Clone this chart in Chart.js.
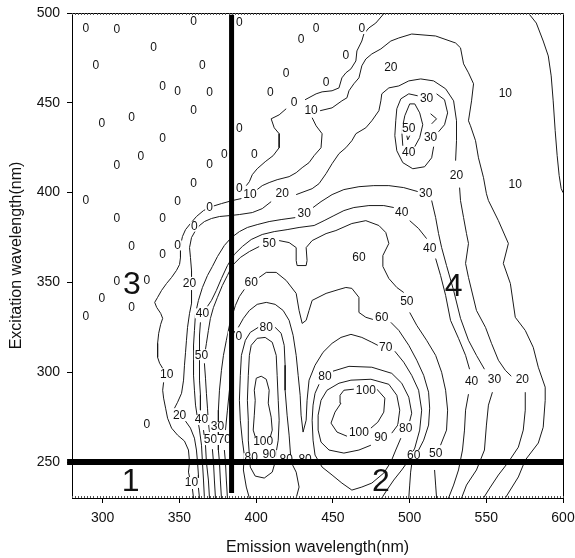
<!DOCTYPE html>
<html><head><meta charset="utf-8">
<script src="https://cdn.jsdelivr.net/npm/chart.js@4"></script>
<style>html,body{margin:0;padding:0;background:#fff;}canvas{display:block}</style>
</head><body>
<canvas id="c" width="575" height="558"></canvas>
<script>
// axis ticks
const xTicks = [300, 350, 400, 450, 500, 550, 600];
const yTicks = [250, 300, 350, 400, 450, 500];

// contour polylines: [emission nm, excitation nm]
const cEdge = [[577.4,500],[582.6,494.4],[587.1,484.4],[590.4,476.1],[592.3,465],[593.6,451.1],[594.9,434.5],[596.2,420.6],[597.5,409.5],[598.8,402.3],[600,400]];
const c0a = [[483.6,500],[478.0,494.4],[473.5,491.7],[470.2,488.3],[468.9,484.4],[465.7,478.9],[465.0,473.3],[461.8,468.9],[458.5,466.7],[455.9,463.9],[454.0,458.3],[449.5,456.7],[443.0,456.1],[439.1,455.0],[431.9,451.7]];
const c0b = [[419.6,446.7],[415.0,443.3],[409.8,441.1],[411.8,436.1],[415.0,432.8],[415.0,425.0],[411.1,420.6],[405.9,417.2],[400.7,413.3],[397.5,410.0],[395.6,406.1],[393.6,403.9]];
const c10a = [[562.4,230],[570.9,241.7],[575.4,251.1],[583.9,260.6],[587.1,269.4],[588.4,284.4],[588.4,291.7],[583.9,302.8],[580.6,313.9],[575.4,323.3],[568.9,330.6],[565.7,349.4],[561.1,360.6],[564.4,371.7],[557.9,384.4],[551.4,395.6],[550.1,399.4],[548.2,408.3],[544.9,419.4],[543.0,428.9],[539.7,437.2],[538.4,440.0],[540.4,451.1],[541.7,460.6],[538.4,466.7],[535.2,471.7],[533.2,480.6],[530.0,483.3],[517.0,487.2],[501.4,488.3],[493.0,486.1],[487.8,484.4],[481.3,480.0],[475.4,477.2],[471.5,474.4],[468.9,470.6],[467.0,463.9],[463.7,460.6],[460.5,456.7],[459.2,452.8],[455.9,451.1],[449.5,447.2],[441.7,445.6]];
const c10b = [[436.5,441.7],[439.1,437.2],[443.0,432.8],[442.3,425.0],[437.8,420.6],[434.5,416.7],[430.0,413.9],[426.1,411.1],[421.5,408.9],[413.7,407.2],[408.5,405.6],[404.0,403.9],[400.7,401.7]];
const c10c = [[390.4,396.7],[384.5,395.6],[377.4,393.9],[370.9,392.2],[365.7,390.0],[361.1,386.7],[357.2,382.8],[354.0,379.4],[352.0,375.6],[350.7,370.6],[350.7,363.9],[350.1,360.0],[348.1,356.7],[344.9,352.8],[341.6,349.4],[338.4,345.6],[335.8,341.7],[333.9,338.9],[335.2,336.1],[337.8,332.8],[339.1,330.0],[337.8,326.7],[336.5,321.7],[335.8,316.1],[335.8,308.3],[337.1,305.0],[339.1,302.2]];
const c10d = [[339.7,294.4],[339.1,290.0],[339.7,285.6],[341.0,280.0],[342.3,274.4],[344.9,268.9],[348.8,265.0],[353.3,261.7],[355.9,256.7],[356.6,250.0],[355.9,244.4],[356.6,241.7]];
const c10e = [[358.5,235.0],[359.2,230]];
const c20a = [[548.2,230],[552.7,236.1],[557.9,242.8],[564.4,250.0],[570.9,258.3],[574.1,267.8],[575.4,278.9],[575.4,288.9]];
const c20b = [[566.3,297.8],[562.4,301.1],[557.9,306.7],[553.4,316.1],[549.5,325.0],[543.6,334.4],[538.4,352.8],[536.5,360.6],[538.4,371.7],[537.1,377.2],[535.2,386.1],[533.2,395.6],[532.6,402.8]];
const c20c = [[530.0,417.8],[530.6,428.9],[530.6,440.0],[528.7,451.1],[523.5,457.8],[515.7,462.2],[507.3,463.3],[499.5,462.2],[493.0,459.4],[486.5,458.3],[481.9,455.0],[481.3,451.1],[480.0,445.6],[475.4,440.0],[471.5,436.1],[465.0,432.8],[462.4,428.9],[458.5,425.0],[454.0,421.7],[449.5,416.1],[445.6,410.6],[441.0,405.0],[436.5,402.2],[426.1,398.9]];
const c20d = [[409.8,395.0],[404.0,391.1],[397.5,388.9],[389.1,387.8],[382.6,387.2],[376.1,386.7],[370.9,385.6],[366.3,383.9],[363.1,381.7],[360.5,378.9],[357.9,375.0],[356.6,369.4],[357.2,363.9],[357.9,356.7],[357.9,353.3]];
const c20e = [[357.9,345.6],[357.9,338.3],[356.6,332.8],[355.3,325.0],[354.6,317.8],[354.0,311.1],[353.3,303.9],[352.7,295.6],[351.4,288.3],[348.8,283.3],[346.8,280.0]];
const c20f = [[354.0,272.8],[357.2,268.9],[359.8,263.3],[361.1,256.7],[361.8,250.0],[362.4,242.8],[362.4,235.6],[363.1,230]];
const c30a = [[533.9,230],[537.1,237.2],[543.6,245.6],[548.8,256.7],[550.1,270.6],[551.4,281.7],[554.0,288.9]];
const c30b = [[548.8,301.7],[543.6,309.4],[538.4,317.8],[533.2,330.0],[528.7,345.6],[524.1,359.4],[520.9,369.4],[518.9,377.2],[517.0,386.1],[514.4,395.6]];
const c30c = [[505.3,400.6],[496.2,402.8],[486.5,403.9],[476.7,403.9],[467.0,403.3],[457.2,401.7],[449.5,398.9],[442.3,395.0],[437.1,391.7]];
const c30d = [[425.5,386.1],[416.3,385.0],[408.5,383.9],[400.7,382.2],[394.3,380.6],[389.1,378.3],[383.9,375.0],[379.3,370.6],[374.8,364.4],[371.5,358.9],[368.3,353.9],[365.0,347.2],[362.4,340.0],[360.5,332.8],[359.8,323.3],[359.2,315.0],[359.2,306.7],[359.2,298.3],[359.8,290.0],[360.5,281.7],[361.8,274.4],[363.1,267.8],[364.4,259.4],[365.0,250.0],[365.7,240.0],[366.3,230]];
const c30top1 = [[505.3,453.9],[499.5,455.0],[494.3,452.2],[491.7,446.7],[491.0,440.0],[490.4,431.7],[491.7,423.3],[495.6,416.7],[502.1,413.3],[509.8,414.4],[514.4,419.4],[515.7,425.6]];
const c30top2 = [[517.6,455.0],[522.8,451.7],[524.8,444.4],[522.8,437.8],[518.9,433.9]];
const c30top3 = [[513.7,443.9],[517.6,441.1],[514.4,438.3]];
const c40a = [[525.4,230],[528.7,237.2],[531.9,245.6],[534.5,256.7],[535.8,267.8],[536.5,278.9],[538.4,287.8]];
const c40b = [[539.1,301.7],[536.5,309.4],[531.9,318.9],[526.7,328.9],[523.5,342.8],[520.2,353.9],[517.0,363.3]];
const c40c = [[511.1,374.4],[505.9,380.0],[500.1,384.4]];
const c40d = [[489.7,391.7],[483.2,392.8],[473.5,392.8],[463.7,391.7],[457.2,390.0],[450.7,387.2],[444.3,384.4],[437.8,381.7],[428.0,380.6],[420.2,379.4],[411.8,378.3],[404.0,376.7],[396.8,373.9],[391.0,370.0],[385.8,365.6],[381.3,359.4],[377.4,352.2],[374.1,345.6],[370.9,340.0],[368.3,336.7]];
const c40e = [[363.7,327.8],[363.1,320.6],[363.1,312.2],[363.1,303.9],[363.1,295.6],[363.7,287.2],[363.7,278.9]];
const c40f = [[365.7,267.8],[367.0,259.4],[367.6,250.0],[368.9,240.0],[369.6,230]];
const c40top = [[495.6,426.1],[494.9,434.4],[496.9,442.8],[500.1,449.4],[503.4,449.4],[506.6,444.4],[508.6,437.8],[506.6,430.6],[503.4,425.6]];
const c50a = [[517.6,230],[517.0,237.2],[516.3,245.6]];
const c50b = [[520.2,259.4],[524.1,267.8],[524.8,278.9],[523.5,290.0],[520.9,300.0],[517.0,309.4],[511.1,317.8],[504.7,326.1],[500.1,333.3]];
const c50c = [[496.2,344.4],[491.7,347.2],[486.5,352.2],[482.6,358.9],[482.6,365.0],[486.5,371.7],[484.5,377.8],[480.0,381.7],[471.5,384.4],[462.4,382.8],[452.0,378.9],[445.6,377.2],[436.5,373.3],[432.6,369.4],[433.2,362.2],[432.6,359.4],[426.7,359.4],[426.1,362.2],[426.1,369.4],[421.5,372.2],[415.0,373.3]];
const c50d = [[402.0,370.0],[395.6,367.2],[389.7,363.9],[384.5,359.4],[381.3,353.9],[378.0,348.3],[374.8,341.7],[372.2,336.1],[370.2,330.0],[368.9,323.3],[367.6,316.1],[367.0,312.8]];
const c50e = [[366.3,305.0],[367.0,296.7],[367.6,288.3],[368.3,280.0],[368.9,272.2],[369.6,266.7]];
const c50f = [[371.5,257.2],[372.2,250.0],[372.8,240.0],[373.5,230]];
const c50top = [[498.2,431.7],[498.8,429.4],[500.1,431.7]];
const c60a = [[499.5,230],[500.1,237.2],[500.7,244.4],[501.4,248.9]];
const c60b = [[505.9,256.7],[509.2,262.2],[512.4,270.6],[513.1,280.0],[512.4,288.9],[509.2,298.3],[504.7,306.7],[499.5,315.0],[493.0,323.3],[487.8,327.8]];
const c60c = [[476.1,329.4],[471.5,330.6],[467.0,333.3],[467.0,341.7],[462.4,346.7],[458.5,347.2],[454.0,346.1],[445.6,343.9],[436.5,340.0],[434.5,334.4],[432.6,328.9],[430.0,327.2],[428.0,334.4],[426.1,343.9],[419.6,351.1],[413.1,355.6],[406.6,355.6],[402.0,352.8]];
const c60d = [[392.3,346.1],[389.1,342.2],[386.5,337.2],[384.5,331.7],[382.6,326.1],[380.6,317.8],[378.7,309.4],[377.4,301.1],[376.1,290.0],[375.4,278.9],[375.4,267.8],[375.4,256.7],[376.1,250.0],[376.7,240.0],[377.4,230]];
const c70a = [[381.3,230],[380.6,240.0],[380.0,250.0],[379.3,256.7]];
const c70b = [[380.0,267.8],[381.3,278.9],[382.6,290.0],[383.9,301.1],[384.5,309.4],[385.2,315.0]];
const c70c = [[388.4,325.0],[391.7,330.0],[395.6,334.4],[400.7,337.8],[406.6,338.9],[412.4,337.8],[417.6,334.4],[421.5,328.9],[424.1,320.6],[426.1,309.4],[427.4,298.3],[428.7,287.2],[429.3,276.1],[430.6,266.7],[432.6,273.3],[433.2,284.4],[434.5,295.6],[438.4,303.9],[443.6,311.1],[449.5,316.1],[455.3,319.4],[461.8,321.1],[468.9,319.4],[475.4,316.7],[479.3,315.0]];
const c70d = [[490.4,311.7],[496.2,305.6],[501.4,298.3],[505.9,290.0],[507.9,278.9],[506.6,267.8],[503.4,257.8],[499.5,251.1],[494.9,245.6],[489.7,240.0],[485.2,234.4],[481.9,230]];
const c80a = [[450.1,300.6],[460.5,303.3],[475.4,302.8],[488.4,299.4],[494.9,293.9],[499.5,286.1],[501.4,277.2],[500.1,272.8]];
const c80b = [[494.3,263.3],[491.0,256.7],[487.8,250.0],[483.2,243.9],[475.4,238.3],[468.9,236.1],[462.4,234.4],[455.9,238.3],[449.5,242.8],[443.0,247.2],[438.4,253.9],[437.1,262.2],[436.5,273.3],[437.1,281.7],[438.4,288.3],[441.0,293.3]];
const c80c = [[412.4,325.0],[416.3,321.7],[418.3,315.0],[418.9,303.9],[418.9,290.0],[420.2,276.1],[421.5,265.0],[422.2,256.7],[422.8,250.0],[426.1,244.4],[428.0,236.1],[426.1,230]];
const c80d = [[401.4,325.0],[396.2,322.2],[393.0,317.8],[390.4,309.4],[389.7,298.3],[389.1,284.4],[389.7,273.3],[391.0,262.2],[392.3,253.9],[391.7,245.6],[393.6,236.1],[395.6,230]];
const c90a = [[474.8,259.4],[467.0,256.7],[457.2,255.0],[447.5,256.7],[442.3,261.1],[440.4,267.8],[440.4,276.1],[442.3,284.4],[446.2,290.0],[454.0,293.9],[461.8,295.6],[474.8,296.1],[486.5,293.3],[491.7,287.2],[493.6,278.9],[492.3,270.6],[488.4,266.1]];
const c90b = [[396.8,315.0],[400.7,318.9],[405.9,319.4],[410.5,316.7],[413.1,309.4],[413.7,298.3],[414.4,284.4],[415.0,273.3],[414.4,262.2],[413.1,255.6],[412.4,250.0],[410.5,244.4],[405.3,241.1],[399.4,242.2],[396.2,247.2],[395.6,253.9],[394.9,262.2],[394.9,273.3],[394.3,284.4],[394.9,298.3],[395.6,309.4],[396.8,315.0]];
const c100a = [[478.7,290.6],[483.9,285.6],[483.2,277.8],[479.3,272.2],[474.8,268.9]];
const c100b = [[459.2,264.4],[452.7,266.7],[448.8,271.7],[451.4,277.8],[455.3,282.8],[454.7,287.2],[457.2,290.0],[463.7,290.6]];
const c100c = [[400.1,296.7],[403.3,297.8],[406.6,296.1],[408.5,290.0],[407.9,282.8],[409.8,275.0],[410.5,267.8],[409.2,263.9]];
const c100d = [[400.1,262.2],[398.1,267.8],[398.8,276.1],[399.4,284.4],[398.8,290.0],[400.1,296.7]];

const contours = [cEdge, c0a, c0b, c10a, c10b, c10c, c10d, c10e, c20a, c20b, c20c, c20d, c20e, c20f,
  c30a, c30b, c30c, c30d, c30top1, c30top2, c30top3, c40a, c40b, c40c, c40d, c40e, c40f, c40top,
  c50a, c50b, c50c, c50d, c50e, c50f, c50top, c60a, c60b, c60c, c60d, c70a, c70b, c70c, c70d,
  c80a, c80b, c80c, c80d, c90a, c90b, c100a, c100b, c100c, c100d];

// contour labels: [emission, excitation, text]
const contourLabels = [
  [289,491.1,'0'],[309.2,490.6,'0'],[333.2,480.6,'0'],[295.5,470.6,'0'],[339.1,458.9,'0'],[348.8,456.1,'0'],
  [359.2,445.6,'0'],[299.4,438.4,'0'],[318.9,441.7,'0'],[339.1,430,'0'],[324.8,420,'0'],[309.2,415,'0'],
  [359.2,405,'0'],[289,395.6,'0'],[348.8,395,'0'],[359.2,495,'0'],[365,470.6,'0'],[369.6,455.6,'0'],
  [369.6,415.6,'0'],[379.3,421.1,'0'],[389.1,494.5,'0'],[389.1,435.6,'0'],[398.8,421.1,'0'],[369.6,391.7,'0'],
  [339.1,385.6,'0'],[359.8,381.1,'0'],[348.8,370.6,'0'],[339.1,365.6,'0'],[328.7,351.1,'0'],[309.2,385.6,'0'],
  [318.9,370,'0'],[309.2,350.6,'0'],[299.4,341.1,'0'],[318.9,336.1,'0'],[289,331.1,'0'],[328.7,270.6,'0'],
  [389.1,402.3,'0'],[419.6,466.1,'0'],[409.2,455.6,'0'],[424.8,450,'0'],[429.3,485,'0'],[439.1,491.1,'0'],
  [468.9,491.1,'0'],[458.5,476.1,'0'],[445.6,461.1,'0'],
  [396,398.9,'10'],[435.8,445.6,'10'],[487.8,469.5,'20'],[417,399.5,'20'],[431.3,388.4,'30'],[408.5,371.7,'50'],
  [467,363.9,'60'],[494.9,388.9,'40'],[513.1,368.9,'40'],[498.2,339.5,'50'],[481.9,330.6,'60'],[484.5,313.9,'70'],
  [444.9,297.3,'80'],[471.5,289.5,'100'],[467,266.1,'100'],[481.3,263.4,'90'],[497.5,268.4,'80'],[502.7,253.4,'60'],
  [517,254.5,'50'],[540.4,295,'40'],[555.3,295.6,'30'],[573.5,295.6,'20'],[364.4,309.5,'50'],[341.7,298.4,'10'],
  [350.1,276.1,'20'],[364.4,273.4,'40'],[374.8,269.5,'30'],[370.2,262.3,'50'],[379.3,262.3,'70'],[404.6,261.1,'100'],
  [408.5,253.9,'90'],[396.8,252.2,'80'],[419.6,251.1,'80'],[431.9,251.1,'80'],[406.6,325,'80'],[396.8,350,'60'],
  [365,332.8,'40'],[356.6,349.5,'20'],[386.5,320,'70'],[357.9,238.4,'10'],[511.1,452.3,'30'],[499.5,435.6,'50'],
  [513.7,430.6,'30'],[499.5,422.3,'40'],[530.6,409.5,'20'],[562.4,455,'10'],[568.9,404.5,'10'],[510.5,399.5,'30']
];
const regionLabels = [[318.3,238.9,'1'],[481.3,238.9,'2'],[319,348.3,'3'],[528.7,347.2,'4']];
const dividerH = [[276.8,250],[600.5,250]];
const dividerV = [[384,232.8],[384,499]];

const FONT = "'Liberation Sans', Arial, sans-serif";
Chart.defaults.font.family = FONT;

const datasets = [
  {data: dividerV.map(p => ({x:p[0], y:p[1]})), showLine:true, borderColor:'#000', borderWidth:5, pointRadius:0, clip:false},
  {data: dividerH.map(p => ({x:p[0], y:p[1]})), showLine:true, borderColor:'#000', borderWidth:6, pointRadius:0, clip:false}
];
contours.forEach(c => datasets.push({data: c.map(p => ({x:p[0], y:p[1]})), showLine:true, borderColor:'#1a1a1a', borderWidth:1, pointRadius:0, tension:0}));

const decor = {
  id:'decor',
  beforeDatasetDraw(chart, args) {
    if (args.index !== 1) return;
    const ctx = chart.ctx, xs = chart.scales.x, ys = chart.scales.y;
    ctx.save();
    ctx.font = "12px " + FONT;
    ctx.textAlign = 'center'; ctx.textBaseline = 'middle';
    contourLabels.forEach(l => {
      const px = xs.getPixelForValue(l[0]), py = ys.getPixelForValue(l[1]);
      const w = ctx.measureText(l[2]).width;
      ctx.fillStyle = '#fff';
      ctx.fillRect(px - w/2 - 1, py - 5, w + 2, 10);
      ctx.fillStyle = '#111';
      ctx.fillText(l[2], px, py);
    });
    ctx.restore();
  },
  afterDatasetsDraw(chart) {
    const ctx = chart.ctx, xs = chart.scales.x, ys = chart.scales.y, a = chart.chartArea;
    ctx.save();
    ctx.font = "32px " + FONT;
    ctx.fillStyle = '#111';
    ctx.textAlign = 'center'; ctx.textBaseline = 'middle';
    regionLabels.forEach(l => ctx.fillText(l[2], xs.getPixelForValue(l[0]), ys.getPixelForValue(l[1])));
    ctx.strokeStyle = '#000'; ctx.lineWidth = 1;
    ctx.strokeRect(a.left + 0.5, a.top + 0.5, a.right - a.left, a.bottom - a.top);
    ctx.strokeStyle = '#555';
    ctx.beginPath();
    for (let v = 280; v <= 600; v += 2) {
      const px = Math.round(xs.getPixelForValue(v)) + 0.5;
      ctx.moveTo(px, a.bottom); ctx.lineTo(px, a.bottom - 2);
      ctx.moveTo(px, a.top); ctx.lineTo(px, a.top + 2);
    }
    ctx.stroke();
    ctx.restore();
  }
};

new Chart(document.getElementById('c'), {
  type: 'scatter',
  data: {datasets},
  options: {
    responsive: false, devicePixelRatio: 1, animation: false,
    layout: {padding: {top: 13, right: 12, left: 0, bottom: 0}},
    plugins: {legend: {display: false}, tooltip: {enabled: false}},
    scales: {
      x: {
        type: 'linear', min: 280, max: 600,
        afterBuildTicks: s => { s.ticks = xTicks.map(v => ({value: v})); },
        afterFit: s => { s.height = 60; s.paddingLeft = 0; s.paddingRight = 0; },
        ticks: {color: '#111', font: {size: 14}, padding: 7, maxRotation: 0},
        grid: {drawOnChartArea: false, drawTicks: true, tickLength: 5, color: '#000'},
        border: {display: true, color: '#000'},
        title: {display: true, text: 'Emission wavelength(nm)', color: '#111', font: {size: 16}, padding: {top: 0, bottom: 1}}
      },
      y: {
        type: 'linear', min: 230, max: 500,
        afterBuildTicks: s => { s.ticks = yTicks.map(v => ({value: v})); },
        afterFit: s => { s.width = 72; s.paddingTop = 0; s.paddingBottom = 0; },
        ticks: {color: '#111', font: {size: 14}, padding: 7},
        grid: {drawOnChartArea: false, drawTicks: true, tickLength: 5, color: '#000'},
        border: {display: true, color: '#000'},
        title: {display: true, text: 'Excitation wavelength(nm)', color: '#111', font: {size: 16}, padding: {top: 7, bottom: 0}}
      }
    }
  },
  plugins: [decor]
});
</script>
</body></html>
